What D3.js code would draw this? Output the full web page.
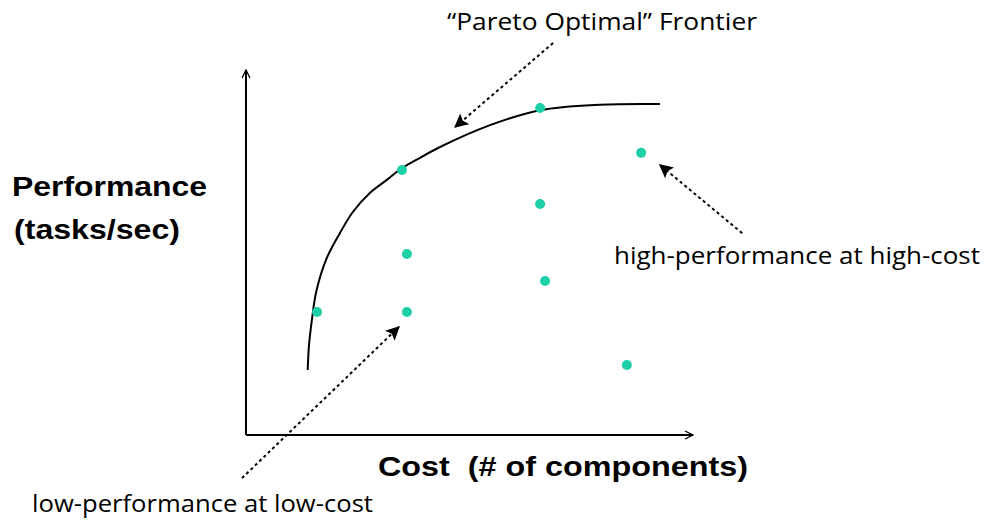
<!DOCTYPE html>
<meta charset="utf-8">
<head>
    <meta charset="utf-8">
    <title>Pareto Optimal Frontier</title>
    <script src="https://d3js.org/d3.v7.min.js" charset="utf-8"></script>
    <style>
        html, body { margin: 0; padding: 0; background: #fff; }
        .axis-line { stroke: #000; stroke-width: 2px; fill: none; }
        .frontier { stroke: #000; stroke-width: 2px; fill: none; }
        .note-arrow { stroke: #000; stroke-width: 2px; stroke-dasharray: 3 3; fill: none; }
        .dot { fill: #1fcfa8; }
        .note { font-family: "Comic Sans MS", "Open Sans", sans-serif; font-size: 23px; fill: #000; }
        .title { font-family: "Liberation Sans", Arial, sans-serif; font-weight: bold; font-size: 27px; fill: #000; }
    </style>
</head>
<body>
<svg width="988" height="525"></svg>
<script>

// データ (cost 0-100, performance 0-100)
var designCost = [15.9, 34.9, 36.0, 36.0, 65.8, 65.8, 66.9, 88.4, 85.2];
var designPerf = [33.7, 72.6, 49.6, 33.7, 89.6, 63.3, 42.2, 77.3, 19.2];

var frontierCost = [13.8, 14.1, 14.8, 15.7, 17.9, 21.0, 23.9, 27.7, 31.5, 34.5, 38.3, 43.4, 54.6, 65.8, 79.2, 92.6];
var frontierPerf = [17.8, 24.7, 32.1, 39.2, 48.0, 55.3, 61.1, 66.3, 69.9, 72.8, 75.5, 78.9, 84.9, 89.0, 90.5, 90.7];

// 注釈の矢印 [from, to]
var noteFromCost = [68.7, 111.0, -0.9];
var noteFromPerf = [107.4, 55.3, -11.8];
var noteToCost = [46.8, 92.6, 34.2];
var noteToPerf = [84.4, 74.0, 29.6];

var svg = d3.select("svg");

var x = d3.scaleLinear().domain([0, 100]).range([246, 693]);
var y = d3.scaleLinear().domain([0, 100]).range([435, 70]);

var defs = svg.append("defs");
defs.append("marker")
    .attr("id", "open")
    .attr("viewBox", "0 0 10 10")
    .attr("refX", 9).attr("refY", 5)
    .attr("markerWidth", 5).attr("markerHeight", 5)
    .attr("markerUnits", "strokeWidth")
    .attr("orient", "auto")
    .append("path")
    .attr("d", "M1,1 L9,5 L1,9")
    .attr("fill", "none")
    .attr("stroke", "#000")
    .attr("stroke-width", 1.3);

defs.append("marker")
    .attr("id", "solid")
    .attr("viewBox", "0 0 10 10")
    .attr("refX", 9).attr("refY", 5)
    .attr("markerWidth", 7).attr("markerHeight", 7)
    .attr("markerUnits", "strokeWidth")
    .attr("orient", "auto")
    .append("path")
    .attr("d", "M0,0 L10,5 L0,10 L2,5 Z")
    .attr("fill", "#000");

// 軸
svg.append("line")
    .attr("class", "axis-line")
    .attr("x1", x(0)).attr("y1", y(0))
    .attr("x2", x(0)).attr("y2", y(100))
    .attr("marker-end", "url(#open)");

svg.append("line")
    .attr("class", "axis-line")
    .attr("x1", x(0)).attr("y1", y(0))
    .attr("x2", x(100)).attr("y2", y(0))
    .attr("marker-end", "url(#open)");

// フロンティア曲線
var frontier = frontierCost.map((c, i) => ({cost: c, perf: frontierPerf[i]}));
var line = d3.line()
    .x(d => x(d.cost))
    .y(d => y(d.perf))
    .curve(d3.curveCatmullRom.alpha(0.5));

svg.append("path")
    .datum(frontier)
    .attr("class", "frontier")
    .attr("d", line);

// 点
var designs = designCost.map((c, i) => ({cost: c, perf: designPerf[i]}));
svg.selectAll(".dot")
    .data(designs)
    .enter().append("circle")
    .attr("class", "dot")
    .attr("cx", d => x(d.cost))
    .attr("cy", d => y(d.perf))
    .attr("r", 5);

// 注釈の矢印
svg.selectAll(".note-arrow")
    .data(noteFromCost.map((c, i) => i))
    .enter().append("line")
    .attr("class", "note-arrow")
    .attr("x1", i => x(noteFromCost[i]))
    .attr("y1", i => y(noteFromPerf[i]))
    .attr("x2", i => x(noteToCost[i]))
    .attr("y2", i => y(noteToPerf[i]))
    .attr("marker-end", "url(#solid)");

// テキスト
svg.append("text").attr("class", "note")
    .attr("x", 447).attr("y", 30)
    .attr("textLength", 310).attr("lengthAdjust", "spacingAndGlyphs")
    .text("“Pareto Optimal” Frontier");

svg.append("text").attr("class", "note")
    .attr("x", 614).attr("y", 264)
    .attr("textLength", 366).attr("lengthAdjust", "spacingAndGlyphs")
    .text("high-performance at high-cost");

svg.append("text").attr("class", "note")
    .attr("x", 32).attr("y", 512)
    .attr("textLength", 341).attr("lengthAdjust", "spacingAndGlyphs")
    .text("low-performance at low-cost");

svg.append("text").attr("class", "title")
    .attr("x", 12).attr("y", 196)
    .attr("textLength", 195).attr("lengthAdjust", "spacingAndGlyphs")
    .text("Performance");

svg.append("text").attr("class", "title")
    .attr("x", 14).attr("y", 239)
    .attr("textLength", 166).attr("lengthAdjust", "spacingAndGlyphs")
    .text("(tasks/sec)");

svg.append("text").attr("class", "title")
    .attr("x", 378).attr("y", 476)
    .attr("textLength", 370).attr("lengthAdjust", "spacingAndGlyphs")
    .attr("xml:space", "preserve")
    .style("white-space", "pre")
    .text("Cost  (# of components)");

</script>
</body>
</html>
